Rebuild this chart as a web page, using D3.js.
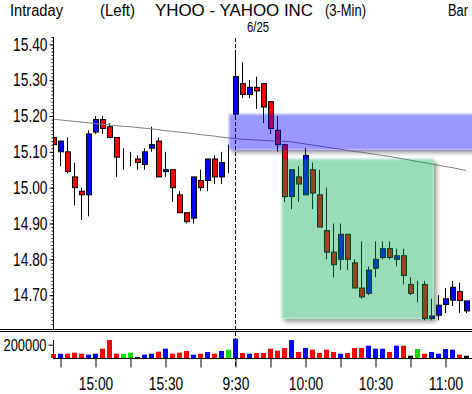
<!DOCTYPE html>
<html>
<head>
<meta charset="utf-8">
<script src="https://cdn.jsdelivr.net/npm/d3@7"></script>
<style>
body { margin: 0; background: #fff; }
svg text { font-family: "Liberation Sans Narrow", "Liberation Sans", "DejaVu Sans", sans-serif; fill: #000; }
</style>
</head>
<body>
<svg id="chart" width="472" height="394"></svg>
<script>
// 3-minute bars, previous afternoon then 6/25 morning
const times = ["14:42","14:45","14:48","14:51","14:54","14:57","15:00","15:03","15:06","15:09",
  "15:12","15:15","15:18","15:21","15:24","15:27","15:30","15:33","15:36","15:39",
  "15:42","15:45","15:48","15:51","15:54","15:57","9:30","9:33","9:36","9:39",
  "9:42","9:45","9:48","9:51","9:54","9:57","10:00","10:03","10:06","10:09",
  "10:12","10:15","10:18","10:21","10:24","10:27","10:30","10:33","10:36","10:39",
  "10:42","10:45","10:48","10:51","10:54","10:57","11:00","11:03","11:06","11:09"];

const opens = [15.14,15.10,15.10,15.03,14.99,14.98,15.155,15.19,15.17,15.14,
  15.08,15.08,15.08,15.065,15.11,15.13,15.045,15.05,14.98,14.93,
  14.915,15.02,15.02,15.08,15.03,15.09,15.205,15.29,15.26,15.28,
  15.29,15.24,15.16,15.12,14.975,15.03,14.98,15.05,14.98,14.88,
  14.82,14.80,14.87,14.79,14.72,14.705,14.775,14.805,14.83,14.80,
  14.81,14.73,14.71,14.73,14.635,14.644,14.674,14.686,14.71,14.656];
const highs = [15.18,15.13,15.14,15.07,15.00,15.16,15.20,15.20,15.18,15.14,
  15.11,15.10,15.09,15.11,15.17,15.14,15.10,15.05,14.99,14.93,
  15.03,15.05,15.08,15.09,15.10,15.12,15.38,15.35,15.30,15.31,
  15.29,15.24,15.20,15.12,15.05,15.06,15.11,15.07,15.05,15.00,
  14.90,14.90,14.87,14.80,14.85,14.78,14.85,14.85,14.85,14.83,
  14.83,14.75,14.74,14.74,14.69,14.70,14.72,14.74,14.735,14.68];
const lows = [15.09,15.06,15.04,14.95,14.91,14.92,15.15,15.15,15.14,15.03,
  15.05,15.06,15.05,15.05,15.10,15.03,15.03,14.96,14.93,14.90,
  14.90,14.99,14.99,15.01,15.01,15.04,15.20,15.25,15.25,15.22,
  15.18,15.15,15.10,14.96,14.94,14.96,14.98,14.94,14.89,14.80,
  14.75,14.77,14.77,14.72,14.69,14.70,14.75,14.80,14.80,14.78,
  14.73,14.70,14.68,14.63,14.63,14.63,14.65,14.67,14.65,14.65];
const closes = [15.12,15.13,15.045,15.00,14.98,15.15,15.19,15.165,15.14,15.085,
  15.08,15.08,15.07,15.10,15.12,15.03,15.05,15.00,14.93,14.905,
  15.03,15.00,15.08,15.03,15.07,15.09,15.31,15.26,15.28,15.27,
  15.225,15.165,15.12,14.975,15.05,15.01,15.09,14.985,14.89,14.82,
  14.785,14.87,14.80,14.72,14.695,14.77,14.80,14.83,14.805,14.81,
  14.755,14.705,14.71,14.635,14.642,14.672,14.69,14.722,14.685,14.684];
const volumes = [60000,65000,65000,80000,65000,50000,65000,140000,270000,65000,
  65000,80000,15000,50000,65000,95000,140000,65000,80000,105000,
  50000,65000,90000,65000,105000,125000,290000,75000,65000,75000,
  75000,140000,110000,150000,270000,90000,150000,125000,75000,125000,
  90000,65000,75000,150000,150000,185000,140000,140000,90000,185000,
  185000,35000,135000,65000,90000,65000,135000,125000,50000,35000];
// long moving average (grey line)
const avgLine = [15.191,15.189,15.187,15.185,15.183,15.181,15.179,15.177,15.175,15.173,
  15.171,15.170,15.168,15.166,15.164,15.162,15.159,15.157,15.155,15.153,
  15.151,15.148,15.146,15.144,15.141,15.139,15.137,15.135,15.134,15.133,
  15.132,15.131,15.130,15.129,15.128,15.125,15.122,15.119,15.116,15.113,
  15.110,15.108,15.104,15.101,15.099,15.096,15.093,15.090,15.087,15.084,
  15.080,15.077,15.073,15.070,15.066,15.063,15.059,15.056,15.052,15.048];

const priceTicks = [14.70,14.80,14.90,15.00,15.10,15.20,15.30,15.40];
const volumeTicks = [200000];
const timeTicks = ["14:45","15:00","15:15","15:30","15:45","9:30","9:45","10:00","10:15","10:30","10:45","11:00"];
const timeLabels = ["15:00","15:30","9:30","10:00","10:30","11:00"];
const sessionBreak = "9:30";

// shaded zones drawn on the chart (bar position, price)
const zoneNames = ["resistance","drop"];
const zoneFrom = [25.15, 32.7];
const zoneTo = [62, 54.4];
const zoneTop = [15.205, 15.08];
const zoneBottom = [15.105, 14.633];
const zoneColors = ["#0000ff", "#00aa55"];

const svg = d3.select("#chart");
const W = 472;

const x = d3.scaleLinear().domain([0, times.length - 1]).range([53, 466]);
const y = d3.scaleLinear().domain([14.60, 15.40]).range([331, 44.3]);
const yv = d3.scaleLinear().domain([0, 200000]).range([358, 344.7]);
const xt = t => x(times.indexOf(t));

// narrow, tall bitmap-like font: squeeze text to its width in the picture
const squeeze = s => {
  let w = 0;
  for (const ch of s) w += /[0-9]/.test(ch) ? 7.6 : (/[.:\/]/.test(ch) ? 4 : 7);
  return w;
};

const bars = times.map((t, i) => ({
  t, i, o: opens[i], h: highs[i], l: lows[i], c: closes[i], v: volumes[i], ma: avgLine[i]
}));
const dir = d => d.c > d.o ? "up" : (d.c < d.o ? "down" : "flat");
const fillOf = {up: "#0000ff", down: "#ff0000", flat: "#00dd00"};

const defs = svg.append("defs");
defs.append("filter").attr("id", "soft")
  .attr("x", "-10%").attr("y", "-20%").attr("width", "120%").attr("height", "140%")
  .append("feGaussianBlur").attr("stdDeviation", 0.9);
defs.append("filter").attr("id", "shadowBlur")
  .attr("x", "-10%").attr("y", "-20%").attr("width", "120%").attr("height", "140%")
  .append("feGaussianBlur").attr("stdDeviation", 2);
defs.append("clipPath").attr("id", "plotClip")
  .append("rect").attr("x", 53).attr("y", 36).attr("width", W - 53).attr("height", 293);

// header
const header = svg.append("g").style("font-size", "16px");
const head = [["Intraday", 10, 16, 53], ["(Left)", 100, 16, 35], ["YHOO - YAHOO INC", 155, 16, 158],
  ["(3-Min)", 325, 16, 41], ["Bar", 448, 16, 20]];
head.forEach(([s, hx, hy, w]) => {
  header.append("text").attr("x", hx).attr("y", hy)
    .attr("textLength", w).attr("lengthAdjust", "spacingAndGlyphs").text(s);
});
header.append("text").attr("x", 247).attr("y", 32).style("font-size", "14px")
  .attr("textLength", 22).attr("lengthAdjust", "spacingAndGlyphs").text("6/25");

// session break (dashed)
svg.append("line")
  .attr("x1", xt(sessionBreak) + 0.5).attr("x2", xt(sessionBreak) + 0.5)
  .attr("y1", 38).attr("y2", 367)
  .attr("stroke", "#000").attr("stroke-dasharray", "4,2");

const plot = svg.append("g").attr("clip-path", "url(#plotClip)");

// candles
const candle = plot.selectAll("g.candle").data(bars).enter().append("g").attr("class", "candle");
candle.append("line")
  .attr("x1", d => Math.round(x(d.i)) + 0.5).attr("x2", d => Math.round(x(d.i)) + 0.5)
  .attr("y1", d => y(d.h)).attr("y2", d => y(d.l))
  .attr("stroke", "#000");
candle.append("rect")
  .attr("x", d => Math.round(x(d.i)) - 2 + 0.5)
  .attr("y", d => y(Math.max(d.o, d.c)))
  .attr("width", 5)
  .attr("height", d => Math.abs(y(d.o) - y(d.c)))
  .attr("fill", d => dir(d) === "flat" ? "none" : fillOf[dir(d)])
  .attr("stroke", "#000");

// moving average
plot.append("path")
  .datum(bars)
  .attr("d", d3.line().x(d => x(d.i)).y(d => y(d.ma)))
  .attr("fill", "none").attr("stroke", "#808080").attr("stroke-width", 1);

// zones with soft drop shadow
zoneNames.forEach((name, k) => {
  const zx = x(zoneFrom[k]), zw = x(zoneTo[k]) - x(zoneFrom[k]);
  const zy = y(zoneTop[k]), zh = y(zoneBottom[k]) - y(zoneTop[k]);
  const m = defs.append("mask").attr("id", "mask-" + name)
    .attr("maskUnits", "userSpaceOnUse").attr("x", 0).attr("y", 0).attr("width", W).attr("height", 394);
  m.append("rect").attr("x", 0).attr("y", 0).attr("width", W).attr("height", 394).attr("fill", "#fff");
  m.append("rect").attr("x", zx).attr("y", zy).attr("width", zw).attr("height", zh).attr("fill", "#000");
  plot.append("g").attr("mask", "url(#mask-" + name + ")")
    .append("rect")
    .attr("x", zx + 3).attr("y", zy + 3).attr("width", zw).attr("height", zh)
    .attr("fill", "#555").attr("opacity", 0.55).attr("filter", "url(#shadowBlur)");
  plot.append("rect")
    .attr("x", zx).attr("y", zy).attr("width", zw).attr("height", zh)
    .attr("fill", zoneColors[k]).attr("opacity", 0.4).attr("filter", "url(#soft)");
});

// price axis
const yAxis = svg.append("g").attr("transform", "translate(53.5,0)");
yAxis.call(d3.axisLeft(y).tickValues(priceTicks).tickSize(4).tickPadding(2).tickFormat(d3.format(".2f")));
yAxis.select(".domain").remove();
yAxis.selectAll("text").style("font-size", "18px").attr("font-family", null)
  .attr("textLength", function() { return squeeze(this.textContent); })
  .attr("lengthAdjust", "spacingAndGlyphs");
const minor = svg.append("g").attr("transform", "translate(53.5,0)");
minor.call(d3.axisLeft(y).tickValues(d3.range(1462, 1543).map(v => v / 100)).tickSize(2).tickFormat(""));
minor.select(".domain").remove();
minor.selectAll(".tick").filter(d => y(d) < 37 || y(d) > 328).remove();
svg.append("line").attr("x1", 53.5).attr("x2", 53.5).attr("y1", 37).attr("y2", 329).attr("stroke", "#000");

// panel separator (double line)
[329.5, 331.5].forEach(v => {
  svg.append("line").attr("x1", 0).attr("x2", W).attr("y1", v).attr("y2", v).attr("stroke", "#000");
});

// volume bars
svg.append("g").selectAll("rect").data(bars).enter().append("rect")
  .attr("x", d => Math.round(x(d.i)) - 2)
  .attr("y", d => yv(d.v))
  .attr("width", 5)
  .attr("height", d => yv(0) - yv(d.v))
  .attr("fill", d => (yv(0) - yv(d.v)) < 3 ? "#111" : fillOf[dir(d)]);

const vAxis = svg.append("g").attr("transform", "translate(53.5,0)");
vAxis.call(d3.axisLeft(yv).tickValues(volumeTicks).tickSize(5).tickPadding(2).tickFormat(d3.format("d")));
vAxis.select(".domain").remove();
vAxis.selectAll("text").style("font-size", "17px").attr("font-family", null)
  .attr("textLength", 43).attr("lengthAdjust", "spacingAndGlyphs");
svg.append("line").attr("x1", 53.5).attr("x2", 53.5).attr("y1", 340).attr("y2", 358.5).attr("stroke", "#000");
svg.append("line").attr("x1", 53).attr("x2", W).attr("y1", 358.5).attr("y2", 358.5).attr("stroke", "#000");

// time axis
const xAxis = svg.append("g").attr("transform", "translate(0.5,358.5)");
xAxis.call(d3.axisBottom(x)
  .tickValues(timeTicks.map(t => times.indexOf(t)))
  .tickSize(9).tickPadding(10)
  .tickFormat(i => timeLabels.includes(times[i]) ? times[i] : ""));
xAxis.select(".domain").remove();
xAxis.selectAll("text").style("font-size", "18px").attr("font-family", null)
  .filter(function() { return this.textContent !== ""; })
  .attr("textLength", function() { return squeeze(this.textContent); })
  .attr("lengthAdjust", "spacingAndGlyphs");
</script>
</body>
</html>
